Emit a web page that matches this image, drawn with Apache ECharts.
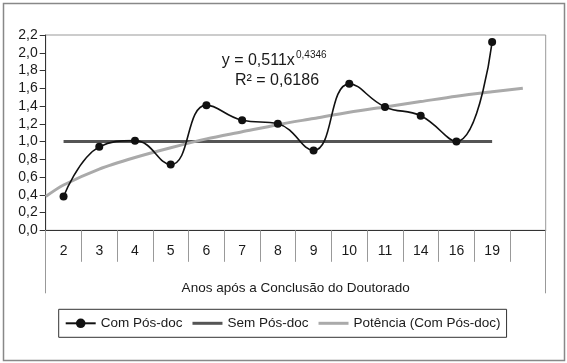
<!DOCTYPE html>
<html>
<head>
<meta charset="utf-8">
<script src="https://cdn.jsdelivr.net/npm/echarts@6/dist/echarts.min.js"></script>
<style>html,body{margin:0;padding:0;background:#fff}#c{width:567px;height:363px}</style>
</head>
<body>
<div id="c"></div>
<script>
var categories = ['2','3','4','5','6','7','8','9','10','11','14','16','19',''];
var comPosDoc = [0.38, 0.94, 1.01, 0.74, 1.41, 1.24, 1.20, 0.90, 1.65, 1.39, 1.29, 1.00, 2.12, '-'];
var semPosDoc = [1.0, 1.0, 1.0, 1.0, 1.0, 1.0, 1.0, 1.0, 1.0, 1.0, 1.0, 1.0, 1.0, '-'];
// trend line read at slot positions (0 = left edge of plot, k+0.5 = centre of category k)
var trendX = [0, 0.5, 1.5, 2.5, 3.5, 4.5, 5.5, 6.5, 7.5, 8.5, 9.5, 10.5, 11.5, 12.5, 13.36];
var trendY = [0.38, 0.51, 0.69, 0.82, 0.93, 1.03, 1.11, 1.19, 1.26, 1.33, 1.39, 1.45, 1.51, 1.56, 1.60];
var yTicks = {min: 0, max: 2.2, interval: 0.2};

var FONT = '"Liberation Sans", Arial, sans-serif';
var chart = echarts.init(document.getElementById('c'), null, {renderer: 'canvas'});
var trendData = trendX.map(function (x, i) { return [x, trendY[i]]; });
// plain line icon (transparent move-to points keep the full box height)
var LINE_ICON = 'path://M0,0 L0,0 M0,4.5 L30,4.5 L30,7.5 L0,7.5 Z M0,12 L0,12';

chart.setOption({
  animation: false,
  textStyle: {fontFamily: FONT},
  grid: {left: 45.7, right: 21.3, top: 35, bottom: 132.7, show: true, borderColor: '#999', borderWidth: 1},
  xAxis: [{
    type: 'category',
    data: categories,
    boundaryGap: true,
    axisLine: {lineStyle: {color: '#333', width: 1}},
    axisTick: {show: true, interval: 0, length: 31.5, lineStyle: {color: '#999'}},
    axisLabel: {interval: 0, margin: 14, fontSize: 14, color: '#1a1a1a', fontFamily: FONT},
    name: 'Anos após a Conclusão do Doutorado',
    nameLocation: 'middle',
    nameGap: 51,
    nameTextStyle: {fontSize: 13.5, color: '#1a1a1a', fontFamily: FONT}
  }, {
    type: 'value',
    position: 'bottom',
    min: 0, max: 14, interval: 14,
    axisLine: {show: false},
    axisTick: {show: true, length: 63, lineStyle: {color: '#999'}},
    axisLabel: {show: false},
    splitLine: {show: false}
  }],
  yAxis: {
    type: 'value',
    min: yTicks.min, max: yTicks.max, interval: yTicks.interval,
    axisLine: {show: true, lineStyle: {color: '#333'}},
    axisTick: {show: true, length: 6, lineStyle: {color: '#333'}},
    splitLine: {show: false},
    axisLabel: {
      margin: 8, fontSize: 14, color: '#1a1a1a', fontFamily: FONT,
      formatter: function (v) { return v.toFixed(1).replace('.', ','); }
    }
  },
  legend: {
    left: 58.7, top: 309.3,
    padding: [7, 6, 7, 6],
    borderColor: '#333', borderWidth: 1,
    itemGap: 10, itemWidth: 30, itemHeight: 12,
    textStyle: {fontSize: 13.5, color: '#1a1a1a', fontFamily: FONT},
    data: [
      {name: 'Com Pós-doc'},
      {name: 'Sem Pós-doc', icon: LINE_ICON},
      {name: 'Potência (Com Pós-doc)', icon: LINE_ICON}
    ]
  },
  series: [{
    name: 'Sem Pós-doc',
    type: 'line',
    data: semPosDoc,
    symbol: 'none',
    lineStyle: {color: '#555', width: 3},
    itemStyle: {color: '#555'},
    z: 2
  }, {
    name: 'Potência (Com Pós-doc)',
    type: 'line',
    xAxisIndex: 1,
    data: trendData,
    smooth: 0.3,
    symbol: 'none',
    lineStyle: {color: '#aaa', width: 3},
    itemStyle: {color: '#aaa'},
    z: 3
  }, {
    name: 'Com Pós-doc',
    type: 'line',
    data: comPosDoc,
    smooth: 0.45,
    symbol: 'circle',
    symbolSize: 8,
    lineStyle: {color: '#111', width: 1.6},
    itemStyle: {color: '#111'},
    z: 4
  }],
  graphic: [{
    type: 'rect',
    shape: {x: 3.5, y: 3.5, width: 561, height: 357},
    style: {fill: 'none', stroke: '#888', lineWidth: 1.5},
    silent: true
  }, {
    type: 'text', x: 221.7, y: 61,
    style: {text: 'y = 0,511x', fontSize: 16, fontFamily: FONT, fill: '#1a1a1a', verticalAlign: 'middle'}
  }, {
    type: 'text', x: 296, y: 55,
    style: {text: '0,4346', fontSize: 10, fontFamily: FONT, fill: '#1a1a1a', verticalAlign: 'middle'}
  }, {
    type: 'text', x: 235, y: 81,
    style: {text: 'R² = 0,6186', fontSize: 16, fontFamily: FONT, fill: '#1a1a1a', verticalAlign: 'middle'}
  }]
});
</script>
</body>
</html>
